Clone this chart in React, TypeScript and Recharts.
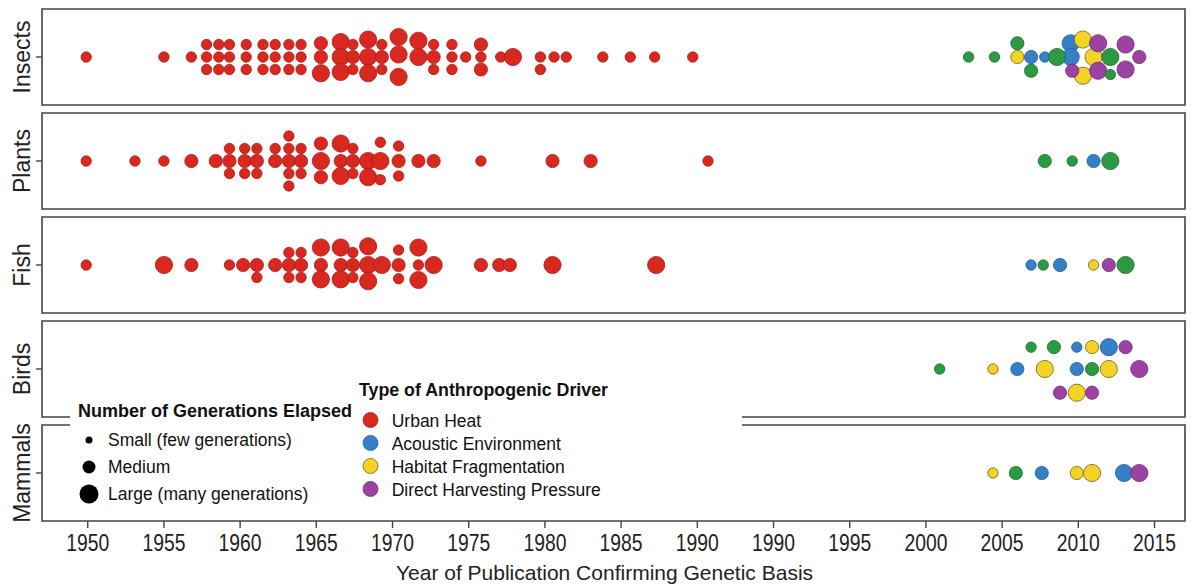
import React from "react";
import { ScatterChart, Scatter, XAxis, YAxis, ReferenceArea } from "recharts";

document.body.style.margin = "0";

type Size = "S" | "M" | "L";
type Driver = "heat" | "acoustic" | "habitat" | "harvest" | "other";
// [year of publication, stack lane in the swarm, generations size, driver]
type Pt = [number, number, Size, Driver];

const TAXA = ["Insects", "Plants", "Fish", "Birds", "Mammals"];

// tick positions on the axis; the printed labels repeat 1990, so everything after it sits 5 units right
const TICK_POS = [1950, 1955, 1960, 1965, 1970, 1975, 1980, 1985, 1990, 1995, 2000, 2005, 2010, 2015, 2020];
const TICK_LABELS = ["1950", "1955", "1960", "1965", "1970", "1975", "1980", "1985", "1990", "1990", "1995", "2000", "2005", "2010", "2015"];

const insects: Pt[] = [
  [1949.9, 0, "S", "heat"], [1955.0, 0, "S", "heat"], [1956.8, 0, "S", "heat"],
  [1957.8, -1, "S", "heat"], [1957.8, 0, "S", "heat"], [1957.8, 1, "S", "heat"],
  [1958.6, -1, "S", "heat"], [1958.6, 0, "S", "heat"], [1958.6, 1, "S", "heat"],
  [1959.3, -1, "S", "heat"], [1959.3, 0, "S", "heat"], [1959.3, 1, "S", "heat"],
  [1960.4, -1, "S", "heat"], [1960.4, 0, "S", "heat"], [1960.4, 1, "S", "heat"],
  [1961.5, -1, "S", "heat"], [1961.5, 0, "S", "heat"], [1961.5, 1, "S", "heat"],
  [1962.3, -1, "S", "heat"], [1962.3, 0, "S", "heat"], [1962.3, 1, "S", "heat"],
  [1963.2, -1, "S", "heat"], [1963.2, 0, "S", "heat"], [1963.2, 1, "S", "heat"],
  [1964.0, -1, "S", "heat"], [1964.0, 0, "S", "heat"], [1964.0, 1, "S", "heat"],
  [1965.3, -1.1, "M", "heat"], [1965.3, 0, "M", "heat"], [1965.3, 1.3, "L", "heat"],
  [1966.6, -1.2, "L", "heat"], [1966.6, 0, "L", "heat"], [1966.6, 1.2, "L", "heat"],
  [1967.4, -1, "S", "heat"], [1967.4, 0, "M", "heat"], [1967.4, 1, "S", "heat"],
  [1968.4, -1.4, "L", "heat"], [1968.4, 0, "L", "heat"], [1968.4, 1.3, "L", "heat"],
  [1969.3, -1, "S", "heat"], [1969.3, 0, "M", "heat"], [1969.3, 1, "S", "heat"],
  [1970.4, -1.6, "L", "heat"], [1970.4, -0.2, "L", "heat"], [1970.4, 1.6, "L", "heat"],
  [1971.7, -1.3, "L", "heat"], [1971.7, 0, "L", "heat"],
  [1972.7, -1, "S", "heat"], [1972.7, 0, "M", "heat"], [1972.7, 1, "S", "heat"],
  [1973.9, -1, "S", "heat"], [1973.9, 0, "S", "heat"], [1973.9, 1, "S", "heat"],
  [1974.8, 0, "S", "heat"],
  [1975.8, -1, "M", "heat"], [1975.8, 0, "S", "heat"], [1975.8, 1, "M", "heat"],
  [1977.1, 0, "S", "heat"], [1977.9, 0, "L", "heat"],
  [1979.7, 0, "S", "heat"], [1979.7, 1, "S", "heat"],
  [1980.6, 0, "S", "heat"], [1981.4, 0, "S", "heat"], [1983.8, 0, "S", "heat"],
  [1985.6, 0, "S", "heat"], [1987.2, 0, "S", "heat"], [1989.7, 0, "S", "heat"],
  [2002.8, 0, "S", "other"], [2004.5, 0, "S", "other"],
  [2006.0, -1.1, "M", "other"], [2006.0, 0, "M", "habitat"],
  [2006.9, 0, "M", "acoustic"], [2006.9, 1.1, "M", "other"],
  [2007.8, 0, "S", "acoustic"], [2008.6, 0, "L", "other"],
  [2009.5, -1.1, "L", "acoustic"], [2009.5, 0, "L", "acoustic"], [2009.6, 1.1, "M", "harvest"],
  [2010.3, -1.4, "L", "habitat"], [2010.3, 1.5, "L", "habitat"], [2011.0, 0, "L", "habitat"],
  [2011.3, -1.1, "L", "harvest"], [2011.3, 1.1, "L", "harvest"],
  [2012.1, 0, "L", "other"], [2012.1, 1.4, "S", "other"],
  [2013.1, -1, "L", "harvest"], [2013.1, 1, "L", "harvest"], [2014.0, 0, "M", "harvest"],
];

const plants: Pt[] = [
  [1949.9, 0, "S", "heat"], [1953.1, 0, "S", "heat"], [1955.0, 0, "S", "heat"],
  [1956.8, 0, "M", "heat"], [1958.4, 0, "M", "heat"],
  [1959.3, -1, "S", "heat"], [1959.3, 0, "M", "heat"], [1959.3, 1, "S", "heat"],
  [1960.3, -1, "S", "heat"], [1960.3, 0, "M", "heat"], [1960.3, 1, "S", "heat"],
  [1961.1, -1, "S", "heat"], [1961.1, 0, "M", "heat"], [1961.1, 1, "S", "heat"],
  [1962.3, -1, "S", "heat"], [1962.3, 0, "M", "heat"],
  [1963.2, -2, "S", "heat"], [1963.2, -1, "S", "heat"], [1963.2, 0, "M", "heat"], [1963.2, 1, "S", "heat"], [1963.2, 2, "S", "heat"],
  [1964.0, -1, "S", "heat"], [1964.0, 0, "M", "heat"], [1964.0, 1, "S", "heat"],
  [1965.3, -1.4, "M", "heat"], [1965.3, 0, "L", "heat"], [1965.3, 1.3, "M", "heat"],
  [1966.6, -1.4, "L", "heat"], [1966.6, 0, "M", "heat"], [1966.6, 1.2, "L", "heat"],
  [1967.4, -1, "S", "heat"], [1967.4, 0, "M", "heat"], [1967.4, 1, "S", "heat"],
  [1968.4, 0, "L", "heat"], [1968.4, 1.3, "L", "heat"],
  [1969.2, -1.5, "S", "heat"], [1969.2, 0, "L", "heat"], [1969.2, 1.5, "S", "heat"],
  [1970.4, -1.2, "S", "heat"], [1970.4, 0, "M", "heat"], [1970.4, 1.2, "S", "heat"],
  [1971.7, 0, "M", "heat"], [1972.7, 0, "M", "heat"], [1975.8, 0, "S", "heat"],
  [1980.5, 0, "M", "heat"], [1983.0, 0, "M", "heat"], [1990.7, 0, "S", "heat"],
  [2007.8, 0, "M", "other"], [2009.6, 0, "S", "other"], [2011.0, 0, "M", "acoustic"], [2012.1, 0, "L", "other"],
];

const fish: Pt[] = [
  [1949.9, 0, "S", "heat"], [1955.0, 0, "L", "heat"], [1956.8, 0, "M", "heat"],
  [1959.3, 0, "S", "heat"], [1960.2, 0, "M", "heat"],
  [1961.1, 0, "M", "heat"], [1961.1, 1, "S", "heat"], [1962.3, 0, "M", "heat"],
  [1963.2, -1, "S", "heat"], [1963.2, 0, "M", "heat"], [1963.2, 1, "S", "heat"],
  [1964.0, -1, "S", "heat"], [1964.0, 0, "M", "heat"], [1964.0, 1, "S", "heat"],
  [1965.3, -1.4, "L", "heat"], [1965.3, 0, "M", "heat"], [1965.3, 1.15, "L", "heat"],
  [1966.6, -1.4, "L", "heat"], [1966.6, 0, "M", "heat"], [1966.6, 1.15, "L", "heat"],
  [1967.4, -1, "S", "heat"], [1967.4, 0, "M", "heat"], [1967.4, 1, "S", "heat"],
  [1968.4, -1.5, "L", "heat"], [1968.4, 0, "L", "heat"], [1968.4, 1.3, "L", "heat"],
  [1969.3, 0, "L", "heat"],
  [1970.4, -1.2, "S", "heat"], [1970.4, 0, "M", "heat"], [1970.4, 1.1, "S", "heat"],
  [1971.7, -1.4, "L", "heat"], [1971.7, 0, "S", "heat"], [1971.7, 1.2, "L", "heat"],
  [1972.7, 0, "L", "heat"], [1975.8, 0, "M", "heat"], [1977.0, 0, "M", "heat"], [1977.7, 0, "M", "heat"],
  [1980.5, 0, "L", "heat"], [1987.3, 0, "L", "heat"],
  [2006.9, 0, "S", "acoustic"], [2007.7, 0, "S", "other"], [2008.8, 0, "M", "acoustic"],
  [2011.0, 0, "S", "habitat"], [2012.0, 0, "M", "harvest"], [2013.1, 0, "L", "other"],
];

const birds: Pt[] = [
  [2000.9, 0, "S", "other"], [2004.4, 0, "S", "habitat"], [2006.0, 0, "M", "acoustic"],
  [2006.9, -1.75, "S", "other"], [2007.8, 0, "L", "habitat"], [2008.4, -1.75, "M", "other"],
  [2008.8, 1.9, "M", "harvest"],
  [2009.9, -1.75, "S", "acoustic"], [2009.9, 0, "M", "acoustic"], [2009.9, 1.9, "L", "habitat"],
  [2010.9, -1.75, "M", "habitat"], [2010.9, 0, "M", "other"], [2010.9, 1.9, "M", "harvest"],
  [2012.0, -1.75, "L", "acoustic"], [2012.0, 0, "L", "habitat"],
  [2013.1, -1.75, "M", "harvest"], [2014.0, 0, "L", "harvest"],
];

const mammals: Pt[] = [
  [2004.4, 0, "S", "habitat"], [2005.9, 0, "M", "other"], [2007.6, 0, "M", "acoustic"],
  [2009.9, 0, "M", "habitat"], [2010.9, 0, "L", "habitat"],
  [2013.0, 0, "L", "acoustic"], [2014.0, 0, "L", "harvest"],
];

const DRIVERS: Driver[] = ["heat", "acoustic", "habitat", "harvest", "other"];
const DRIVER_LABELS = ["Urban Heat", "Acoustic Environment", "Habitat Fragmentation", "Direct Harvesting Pressure"];
const SIZE_LABELS = ["Small (few generations)", "Medium", "Large (many generations)"];

const COLORS: Record<Driver, { fill: string; stroke: string }> = {
  heat: { fill: "#d8281f", stroke: "#a91d17" },
  acoustic: { fill: "#3580c6", stroke: "#215f98" },
  habitat: { fill: "#f5d326", stroke: "#6e6220" },
  harvest: { fill: "#9b42a3", stroke: "#6c2b73" },
  other: { fill: "#2c9a42", stroke: "#1d6c2d" },
};
const RADIUS: Record<Size, number> = { S: 5.2, M: 6.6, L: 8.6 };

const FONT = "'Liberation Sans', Arial, Helvetica, sans-serif";
const X_DOMAIN: [number, number] = [1947, 2022];
const HALF = 0.4615; // half a panel, in y units
const LANE_STEP = 0.12;

// later years are pushed right past the repeated 1990 tick
const toAxis = (year: number) => (year > 1992 ? year + 5 : year);

const points = [insects, plants, fish, birds, mammals].flatMap((pts, i) =>
  pts.map(([year, lane, size, driver]) => ({ x: toAxis(year), y: i + lane * LANE_STEP, size, driver }))
);

const renderDot = (props: any) => {
  const { cx, cy, payload } = props;
  const c = COLORS[payload.driver as Driver];
  return <circle cx={cx} cy={cy} r={RADIUS[payload.size as Size]} fill={c.fill} stroke={c.stroke} strokeWidth={0.8} />;
};

const XTick = (props: any) => {
  const { x, y, payload } = props;
  const label = TICK_LABELS[TICK_POS.indexOf(payload.value)];
  return (
    <text x={x} y={y} dy={21} textAnchor="middle" fontSize={23} fill="#222" fontFamily={FONT}
      textLength={43} lengthAdjust="spacingAndGlyphs">
      {label}
    </text>
  );
};

const YTick = (props: any) => {
  const { y, payload } = props;
  return (
    <text x={22} y={y} transform={`rotate(-90 22 ${y})`} textAnchor="middle" dominantBaseline="central"
      fontSize={23} fill="#222" fontFamily={FONT}>
      {TAXA[payload.value]}
    </text>
  );
};

function Legends() {
  const driverY = [420, 443, 466, 489];
  const sizeY = [440, 467, 494];
  const sizeR = [3.5, 6.5, 9.5];
  return (
    <svg width={1199} height={585} style={{ position: "absolute", left: 0, top: 0, pointerEvents: "none" }}>
      <rect x={70} y={376} width={672} height={136} fill="#fff" />
      <text x={78} y={416.5} fontSize={18} fontWeight="bold" fill="#111" fontFamily={FONT}>
        Number of Generations Elapsed
      </text>
      {SIZE_LABELS.map((s, i) => (
        <g key={s}>
          <circle cx={89} cy={sizeY[i]} r={sizeR[i]} fill="#000" />
          <text x={108} y={sizeY[i] + 6.3} fontSize={17.5} fill="#111" fontFamily={FONT}>{s}</text>
        </g>
      ))}
      <text x={359} y={395.6} fontSize={17.8} fontWeight="bold" fill="#111" fontFamily={FONT}>
        Type of Anthropogenic Driver
      </text>
      {DRIVER_LABELS.map((d, i) => (
        <g key={d}>
          <circle cx={370.5} cy={driverY[i]} r={7.5} fill={COLORS[DRIVERS[i]].fill} stroke={COLORS[DRIVERS[i]].stroke} strokeWidth={0.8} />
          <text x={391.7} y={driverY[i] + 7} fontSize={17.5} fill="#111" fontFamily={FONT}>{d}</text>
        </g>
      ))}
    </svg>
  );
}

export default function App() {
  return (
    <div style={{ position: "relative", width: 1199, height: 585, background: "#fff" }}>
      <ScatterChart width={1199} height={585} margin={{ top: 9, right: 14, bottom: 0, left: 0 }}>
        <XAxis
          type="number"
          dataKey="x"
          domain={X_DOMAIN}
          ticks={TICK_POS}
          interval={0}
          allowDataOverflow
          tick={<XTick />}
          tickSize={7}
          tickLine={{ stroke: "#444", strokeWidth: 1.4 }}
          axisLine={false}
          height={64}
          label={{ value: "Year of Publication Confirming Genetic Basis", position: "insideBottom", offset: 5.5, dx: -9, fontSize: 21, fill: "#222", fontFamily: FONT }}
        />
        <YAxis
          type="number"
          dataKey="y"
          domain={[-HALF, TAXA.length - 1 + HALF]}
          reversed
          ticks={[0, 1, 2, 3, 4]}
          interval={0}
          allowDataOverflow
          tick={<YTick />}
          tickSize={6}
          tickLine={{ stroke: "#444", strokeWidth: 1.4 }}
          axisLine={false}
          width={42}
        />
        {TAXA.map((t, i) => (
          <ReferenceArea key={t} x1={X_DOMAIN[0]} x2={X_DOMAIN[1]} y1={i - HALF} y2={i + HALF}
            fill="none" fillOpacity={0} stroke="#444" strokeWidth={1.6} ifOverflow="visible" />
        ))}
        {DRIVERS.map((d) => (
          <Scatter key={d} name={d} data={points.filter((p) => p.driver === d)} shape={renderDot} isAnimationActive={false} />
        ))}
      </ScatterChart>
      <Legends />
    </div>
  );
}
